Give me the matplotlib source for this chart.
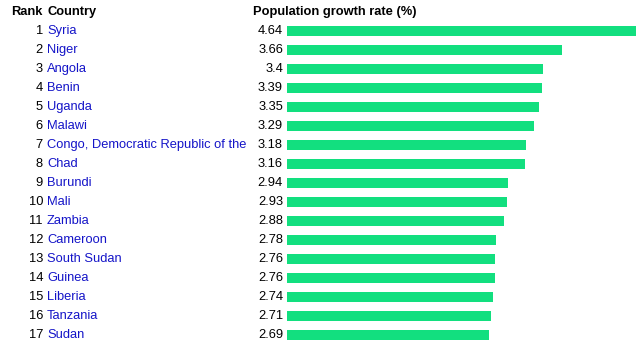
import matplotlib
matplotlib.use("Agg")
import matplotlib.pyplot as plt
from matplotlib.transforms import blended_transform_factory

plt.rcParams["font.family"] = ["Liberation Sans", "DejaVu Sans"]

ranks = list(range(1, 18))
countries = [
    "Syria", "Niger", "Angola", "Benin", "Uganda", "Malawi",
    "Congo, Democratic Republic of the", "Chad", "Burundi", "Mali",
    "Zambia", "Cameroon", "South Sudan", "Guinea", "Liberia",
    "Tanzania", "Sudan",
]
growth = [4.64, 3.66, 3.4, 3.39, 3.35, 3.29, 3.18, 3.16, 2.94, 2.93,
          2.88, 2.78, 2.76, 2.76, 2.74, 2.71, 2.69]

W, H = 636, 348
fig = plt.figure(figsize=(W / 100, H / 100), dpi=100)
ax = fig.add_axes([287 / W, 0, 349 / W, 1])

rows = list(range(len(countries)))
ax.barh(rows, growth, height=0.5, color="#12df7f")
ax.set_xlim(0, max(growth))
# first row centred 31px from the top, rows 19px apart
ax.set_ylim((H - 31) / 19, -31 / 19)
ax.axis("off")

tr = blended_transform_factory(fig.transFigure, ax.transData)
fs = 9.3

ax.text(11 / W, -1, "Rank", transform=tr, fontsize=fs, fontweight="bold",
        va="center", ha="left")
ax.text(47 / W, -1, "Country", transform=tr, fontsize=fs, fontweight="bold",
        va="center", ha="left")
ax.text(253 / W, -1, "Population growth rate (%)", transform=tr, fontsize=fs,
        fontweight="bold", va="center", ha="left")

for i, (r, c, v) in enumerate(zip(ranks, countries, growth)):
    ax.text(43 / W, i, str(r), transform=tr, fontsize=fs, va="center",
            ha="right", color="black")
    ax.text(47 / W, i, c, transform=tr, fontsize=fs, va="center",
            ha="left", color="#1414c8")
    ax.text(283 / W, i, f"{v:g}", transform=tr, fontsize=fs, va="center",
            ha="right", color="black")

fig.savefig("out.png", dpi=100)
